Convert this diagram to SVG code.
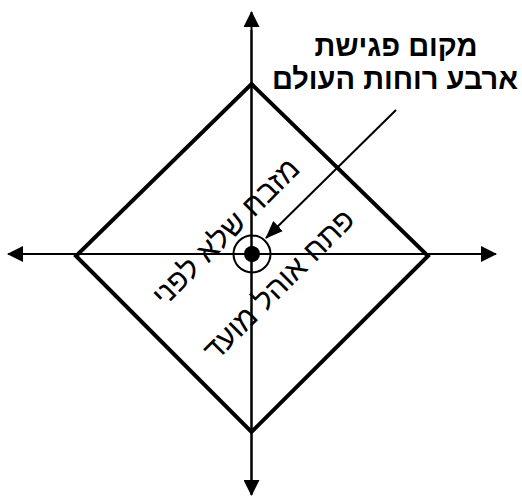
<svg xmlns="http://www.w3.org/2000/svg" width="522" height="496" viewBox="0 0 522 496">
<defs>
<marker id="ah" markerWidth="16" markerHeight="16" viewBox="0 0 16 16" refX="15" refY="8" orient="auto" markerUnits="userSpaceOnUse">
<path d="M0,0 L16,8 L0,16 Z" fill="#000"/>
</marker>
<marker id="ah2" markerWidth="18" markerHeight="14" viewBox="0 0 18 14" refX="17" refY="7" orient="auto" markerUnits="userSpaceOnUse">
<path d="M0,0 L18,7 L0,14 Z" fill="#000"/>
</marker>
</defs>
<style>
.ax{stroke:#000;stroke-width:2;fill:none}
.t{font-family:"Liberation Sans","DejaVu Sans",sans-serif;fill:#000}
.title{font-size:29px;font-weight:bold}
.rot{font-size:30px}
</style>
<rect width="522" height="496" fill="#fff"/>
<g id="connectors">
<line class="ax" x1="251.5" y1="480" x2="251.5" y2="12" marker-end="url(#ah)"/>
<line class="ax" x1="251.5" y1="30" x2="251.5" y2="495" marker-end="url(#ah)"/>
<line class="ax" x1="250" y1="254" x2="8" y2="254" marker-end="url(#ah)"/>
<line class="ax" x1="250" y1="254" x2="496" y2="254" marker-end="url(#ah)"/>
<line class="ax" x1="396" y1="110" x2="266" y2="238" marker-end="url(#ah2)"/>
</g>
<g id="diamond">
<polygon points="251.5,84 428,256 251.5,432 76,256" fill="none" stroke="#000" stroke-width="4" stroke-linejoin="miter"/>
</g>
<g id="center">
<circle cx="252" cy="254" r="18.5" fill="none" stroke="#000" stroke-width="2"/>
<circle cx="252" cy="254" r="8" fill="#000"/>
</g>
<g id="title">
<text class="t title" x="396" y="56" text-anchor="middle" direction="rtl">מקום פגישת</text>
<text class="t title" x="395" y="89" text-anchor="middle" direction="rtl">ארבע רוחות העולם</text>
</g>
<g id="label">
<text class="t rot" text-anchor="middle" direction="rtl" transform="translate(233,239) rotate(-45)">מזבח שלא לפני</text>
<text class="t rot" text-anchor="middle" direction="rtl" transform="translate(286,292) rotate(-45)">פתח אוהל מועד</text>
</g>
</svg>
